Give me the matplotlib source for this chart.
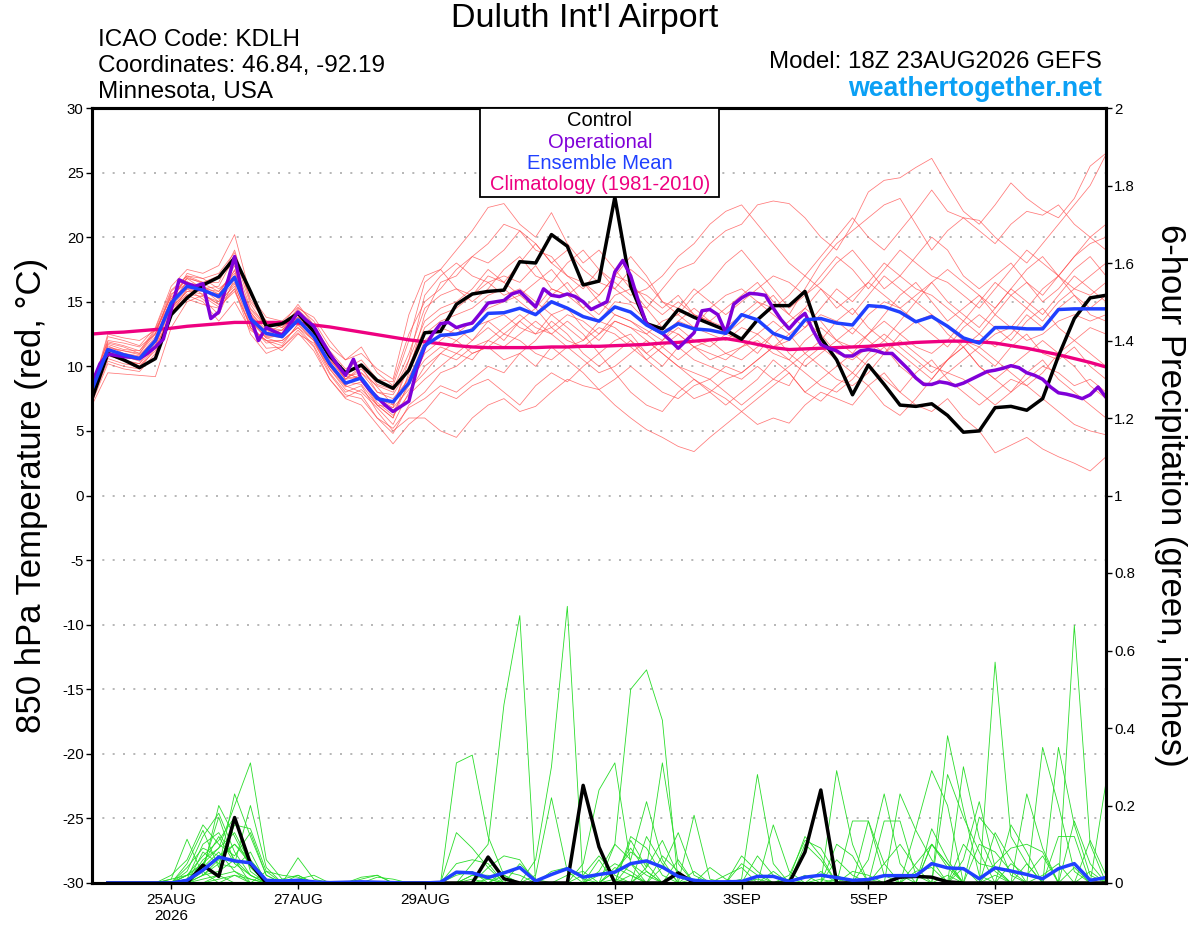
import numpy as np
import matplotlib.pyplot as plt
from matplotlib.patches import Rectangle
from matplotlib.ticker import FormatStrFormatter

plt.rcParams['font.family'] = ['Liberation Sans', 'DejaVu Sans']
plt.rcParams['axes.unicode_minus'] = False

# forecast hours after 18Z 23AUG2026 (ensemble 6-hourly, operational 3-hourly)
hours = np.arange(65) * 6
hours_op = np.arange(129) * 3

tick_hours = [30, 78, 126, 198, 246, 294, 342]
tick_labels = ['25AUG\n2026', '27AUG', '29AUG', '1SEP', '3SEP', '5SEP', '7SEP']

# 850 hPa temperature (C)
control_t = [7.5, 11.0, 10.5, 9.9, 10.6, 14.0, 15.3, 16.3, 16.9, 18.4, 15.8, 13.1, 13.3,
             14.1, 12.7, 10.8, 9.5, 10.1, 8.9, 8.3, 9.7, 12.6, 12.7, 14.8, 15.6, 15.8,
             15.9, 18.1, 18.0, 20.2, 19.3, 16.3, 16.6, 23.1, 16.2, 13.3, 12.9, 14.4, 13.8,
             13.3, 12.8, 12.1, 13.6, 14.7, 14.7, 15.8, 12.2, 10.5, 7.8, 10.1, 8.6, 7.0,
             6.9, 7.1, 6.2, 4.9, 5.0, 6.8, 6.9, 6.6, 7.5, 10.8, 13.7, 15.3, 15.5]

operational_t = [8.7, 10.2, 10.95, 10.85, 10.75, 10.7, 10.6, 11.0, 11.5, 12.1,
                 14.4, 16.7, 16.4, 16.2, 16.4, 13.7, 14.2, 16.3, 18.5, 15.5,
                 13.8, 12.0, 13.0, 12.7, 12.4, 13.3, 14.2, 13.6, 13.1, 12.0,
                 11.0, 10.1, 9.3, 10.55, 9.0, 8.2, 7.6, 7.0, 6.5, 6.9,
                 7.3, 9.8, 11.5, 12.5, 13.3, 13.4, 13.0, 13.2, 13.35, 14.1,
                 14.9, 15.0, 15.1, 15.6, 15.8, 15.2, 14.6, 16.0, 15.5, 15.4,
                 15.6, 15.4, 15.0, 14.4, 14.7, 15.0, 17.3, 18.2, 17.0, 15.0,
                 13.3, 12.9, 12.55, 12.0, 11.4, 12.0, 12.6, 14.3, 14.4, 14.0,
                 12.6, 14.8, 15.3, 15.65, 15.6, 15.5, 14.5, 13.6, 12.9, 13.6,
                 14.1, 12.8, 11.7, 11.4, 11.2, 10.8, 10.8, 11.2, 11.3, 11.2,
                 11.0, 11.0, 10.4, 9.8, 9.1, 8.6, 8.6, 8.8, 8.7, 8.5,
                 8.7, 9.0, 9.3, 9.6, 9.7, 9.85, 10.05, 9.9, 9.5, 9.3,
                 9.0, 8.4, 7.95, 7.85, 7.7, 7.5, 7.8, 8.4, 7.6]

mean_t = [8.2, 11.3, 10.9, 10.6, 12.0, 14.9, 16.2, 15.9, 15.4, 16.9, 13.7, 12.55, 12.3,
          13.6, 12.3, 10.2, 8.7, 9.1, 7.5, 7.25, 8.7, 11.6, 12.4, 12.5, 12.8, 14.1,
          14.15, 14.5, 14.0, 15.0, 14.5, 13.85, 13.5, 14.6, 14.2, 13.2, 12.55, 13.3, 12.9,
          12.8, 12.55, 14.0, 13.6, 12.55, 12.1, 13.6, 13.7, 13.35, 13.2, 14.7, 14.6, 14.2,
          13.45, 13.85, 13.1, 12.2, 11.8, 13.0, 13.0, 12.9, 12.9, 14.4, 14.45, 14.45, 14.45]

clim_t = [12.5, 12.6, 12.65, 12.75, 12.85, 12.95, 13.1, 13.2, 13.3, 13.4, 13.4, 13.4, 13.4,
          13.35, 13.2, 13.05, 12.85, 12.65, 12.45, 12.25, 12.05, 11.9, 11.75, 11.6, 11.5, 11.45,
          11.45, 11.45, 11.45, 11.5, 11.5, 11.55, 11.55, 11.6, 11.65, 11.7, 11.8, 11.85, 11.95,
          12.05, 12.15, 11.95, 11.7, 11.45, 11.3, 11.35, 11.4, 11.45, 11.5, 11.55, 11.65, 11.75,
          11.85, 11.9, 11.95, 11.95, 11.9, 11.8, 11.6, 11.4, 11.15, 10.9, 10.6, 10.3, 9.95]

members_t = [
    [7.5, 11.5, 11.2, 11.0, 12.5, 15.5, 16.8, 16.5, 17.0, 18.0, 14.5, 13.2, 12.5, 14.0, 13.0, 11.0, 9.5, 9.0, 7.0, 6.0, 9.5,
     14.0, 16.5, 17.0, 18.5, 19.5, 21.0, 20.5, 19.0, 18.5, 17.0, 16.0, 17.5, 16.0, 15.0, 14.5, 16.0, 17.5, 18.0, 19.5, 20.5,
     21.0, 22.5, 22.8, 22.6, 21.5, 20.0, 19.0, 21.0, 23.5, 24.4, 24.6, 25.4, 26.1, 24.0, 22.0, 21.0, 22.5, 24.2, 23.0, 22.1, 21.5, 23.0, 25.5, 26.5],
    [8.0, 12.3, 12.0, 11.6, 13.0, 16.2, 17.5, 17.2, 17.8, 20.2, 15.5, 13.8, 13.5, 14.6, 13.5, 11.5, 10.5, 11.5, 9.5, 8.5, 12.0,
     16.5, 17.5, 19.0, 20.5, 22.3, 22.6, 21.0, 20.0, 21.9, 19.5, 18.0, 19.0, 17.5, 16.0, 15.5, 14.5, 15.5, 14.0, 13.5, 14.5,
     15.5, 16.5, 15.0, 14.0, 16.0, 18.0, 19.5, 20.5, 21.5, 22.5, 23.0, 21.0, 19.0, 20.5, 21.5, 21.3, 20.0, 19.0, 18.0, 19.5, 21.0, 22.5, 24.0, 26.4],
    [7.0, 9.5, 9.4, 9.3, 9.2, 13.0, 15.0, 15.5, 14.8, 16.0, 12.5, 11.0, 11.5, 12.8, 11.5, 9.0, 7.5, 7.0, 5.5, 4.0, 5.5,
     6.5, 8.0, 7.5, 8.5, 9.0, 8.0, 7.0, 8.5, 9.5, 8.8, 10.0, 11.0, 9.5, 8.0, 7.0, 6.5, 8.0, 9.0, 8.2, 7.5,
     6.5, 5.5, 6.0, 5.6, 7.0, 8.0, 7.5, 7.0, 8.5, 9.5, 8.0, 7.0, 6.5, 7.5, 6.0, 5.0, 3.3, 3.9, 4.5, 3.6, 3.0, 2.5, 1.9, 3.0],
    [8.3, 11.0, 10.5, 10.2, 12.2, 14.5, 15.8, 16.0, 15.0, 17.5, 13.0, 12.0, 12.0, 13.0, 12.0, 9.5, 8.0, 8.5, 6.5, 5.0, 6.0,
     6.0, 5.0, 4.5, 6.0, 7.0, 7.5, 6.5, 6.9, 8.0, 9.0, 8.5, 8.2, 7.0, 6.0, 5.1, 4.5, 3.8, 3.4, 4.5, 5.5,
     6.5, 7.5, 8.5, 9.5, 8.0, 9.0, 10.0, 11.0, 10.0, 9.0, 8.0, 9.5, 10.5, 9.0, 8.0, 7.0, 8.0, 9.0, 8.5, 7.5, 6.5, 5.5, 5.0, 4.7],
    [8.0, 11.8, 11.5, 11.0, 12.8, 15.0, 16.5, 16.2, 15.2, 16.5, 14.0, 12.5, 12.8, 14.2, 12.8, 10.5, 9.0, 10.0, 8.0, 7.5, 9.0,
     12.0, 13.0, 12.5, 13.5, 14.5, 15.0, 15.5, 14.5, 16.0, 15.5, 14.5, 13.5, 15.0, 14.8, 13.5, 12.5, 13.5, 13.0, 12.5, 12.0,
     13.0, 12.5, 11.5, 12.0, 13.0, 14.0, 13.5, 12.5, 14.0, 15.0, 14.5, 13.5, 14.0, 13.0, 12.0, 11.5, 12.5, 13.0, 12.0, 12.5, 13.5, 14.0, 13.5, 14.0],
    [7.8, 10.8, 10.5, 10.0, 11.5, 14.0, 16.0, 15.2, 14.0, 16.8, 13.5, 12.2, 11.8, 13.2, 12.0, 10.0, 8.5, 9.5, 8.5, 8.0, 10.5,
     13.5, 14.5, 15.0, 16.0, 17.5, 16.5, 18.0, 19.5, 18.0, 17.0, 16.5, 15.5, 17.0, 18.5, 17.0, 15.0, 14.0, 15.5, 16.5, 18.0,
     19.0, 17.5, 16.0, 14.5, 15.5, 17.0, 18.5, 17.5, 16.0, 17.5, 19.0, 18.0, 17.0, 16.5, 15.5, 14.5, 16.0, 17.5, 19.0, 18.0, 17.0, 18.5, 20.0, 21.0],
    [8.5, 12.0, 11.8, 11.5, 12.5, 15.8, 17.0, 16.5, 16.5, 19.0, 15.0, 13.5, 13.0, 14.5, 13.8, 12.0, 10.5, 11.0, 9.8, 9.0, 14.0,
     17.0, 17.5, 16.0, 15.5, 16.5, 17.0, 16.5, 17.8, 16.0, 15.5, 16.5, 15.0, 14.0, 13.5, 12.8, 12.0, 13.0, 12.0, 11.5, 12.5,
     13.5, 14.5, 15.5, 14.0, 13.0, 14.5, 16.0, 15.0, 16.5, 18.0, 17.0, 16.0, 15.5, 14.5, 13.5, 15.0, 16.5, 15.5, 14.5, 13.5, 15.0, 16.0, 17.0, 18.0],
    [7.2, 10.2, 9.8, 9.6, 11.0, 14.2, 15.5, 15.0, 13.5, 15.0, 12.8, 12.0, 11.2, 12.5, 11.8, 9.8, 8.2, 7.8, 6.0, 4.8, 7.0,
     8.0, 9.5, 10.0, 11.0, 11.5, 12.5, 12.0, 11.0, 10.5, 11.5, 10.5, 9.5, 10.0, 11.0, 12.0, 11.0, 10.0, 9.0, 8.0, 7.0,
     8.0, 9.0, 10.5, 9.5, 8.0, 7.3, 8.5, 9.5, 8.5, 7.0, 6.2, 7.5, 9.0, 10.5, 11.5, 10.0, 9.0, 8.0, 9.5, 10.5, 9.0, 8.0, 7.0, 6.0],
    [8.6, 11.6, 11.0, 10.8, 12.3, 15.2, 16.8, 16.0, 15.8, 17.2, 14.2, 12.8, 12.6, 13.8, 12.5, 10.8, 9.2, 9.5, 8.0, 7.8, 9.8,
     12.5, 13.5, 14.0, 14.5, 15.5, 16.0, 15.0, 14.0, 15.5, 16.5, 15.0, 14.0, 15.5, 16.0, 14.5, 13.0, 12.5, 11.5, 11.0, 10.5,
     11.5, 12.5, 13.5, 12.5, 11.0, 12.0, 13.5, 14.5, 13.0, 12.0, 13.5, 15.0, 14.0, 12.5, 11.5, 12.5, 14.0, 15.5, 16.5, 15.0, 16.0, 17.5, 18.5, 17.0],
    [7.9, 11.2, 10.8, 10.4, 11.8, 14.6, 16.0, 15.8, 15.5, 17.8, 13.8, 12.4, 12.2, 13.5, 12.2, 10.0, 8.5, 8.0, 6.8, 5.5, 8.0,
     10.0, 11.0, 10.5, 11.5, 12.0, 13.0, 14.0, 13.0, 12.5, 13.5, 12.5, 11.0, 12.0, 12.5, 11.0, 10.0, 11.5, 10.5, 10.0, 9.5,
     9.0, 10.0, 9.0, 8.5, 10.5, 11.5, 10.5, 9.5, 11.0, 12.0, 11.0, 10.0, 9.0, 10.5, 12.0, 11.0, 10.0, 11.5, 12.5, 11.0, 10.5, 11.5, 10.0, 9.0],
    [8.1, 11.4, 11.2, 10.9, 12.0, 15.0, 17.2, 16.8, 16.0, 17.0, 14.0, 12.6, 13.2, 14.8, 13.2, 11.2, 9.8, 10.5, 9.0, 8.8, 12.5,
     15.0, 16.0, 17.5, 18.5, 18.0, 19.0, 20.5, 19.5, 18.0, 19.0, 17.5, 16.5, 16.0, 17.5, 16.5, 15.0, 14.5, 16.0, 15.0, 14.0,
     15.0, 16.0, 17.0, 16.5, 15.5, 16.5, 18.0, 19.0, 17.5, 16.0, 17.0, 18.5, 20.0, 19.0, 17.0, 16.0, 17.0, 18.0, 16.5, 15.5, 17.0, 18.5, 19.5, 20.0],
    [7.6, 10.6, 10.2, 10.0, 11.2, 14.4, 15.6, 15.4, 14.6, 15.8, 13.2, 11.8, 12.0, 13.0, 11.6, 9.4, 7.8, 7.5, 6.0, 5.2, 6.8,
     7.5, 8.5, 8.0, 9.0, 10.0, 9.5, 11.0, 10.0, 11.5, 10.5, 9.5, 8.2, 9.0, 10.0, 9.0, 8.0, 7.5, 8.5, 9.0, 8.0,
     7.0, 8.0, 9.0, 10.0, 11.0, 10.0, 9.0, 8.5, 9.5, 11.0, 12.0, 11.0, 10.0, 9.5, 10.5, 11.5, 10.5, 9.5, 8.5, 9.5, 11.0, 12.0, 11.0, 10.0],
    [8.4, 11.7, 11.3, 11.2, 12.6, 15.6, 16.4, 16.0, 16.2, 18.5, 14.8, 13.0, 12.4, 14.0, 12.6, 10.6, 9.0, 9.2, 7.5, 6.5, 8.5,
     11.0, 12.0, 13.0, 12.0, 13.5, 14.0, 13.0, 12.5, 14.0, 13.0, 12.0, 13.5, 13.0, 12.0, 11.0, 12.0, 13.5, 14.5, 13.5, 12.5,
     12.0, 11.0, 12.5, 13.5, 14.5, 13.5, 12.0, 11.5, 12.5, 14.0, 15.5, 16.5, 15.0, 13.5, 14.5, 15.5, 14.0, 13.0, 14.5, 16.0, 17.0, 15.5, 14.5, 15.5],
    [7.7, 11.0, 10.7, 10.5, 11.6, 14.8, 16.6, 15.5, 15.0, 16.2, 13.5, 12.2, 12.4, 13.6, 12.4, 10.4, 9.5, 10.2, 8.6, 8.2, 11.0,
     14.5, 15.5, 16.0, 15.0, 16.0, 17.5, 18.5, 17.0, 16.5, 18.0, 19.0, 17.5, 16.5, 15.5, 16.0, 17.0, 18.5, 19.5, 21.0, 22.0,
     22.5, 21.0, 19.5, 18.0, 17.0, 18.5, 20.0, 21.5, 20.0, 19.0, 20.5, 22.0, 23.65, 22.0, 21.5, 20.5, 19.5, 21.0, 22.0, 21.7, 22.5, 21.0, 20.0, 19.0],
    [8.2, 12.5, 12.2, 12.0, 12.8, 15.4, 16.0, 16.2, 15.6, 17.0, 14.2, 12.6, 12.8, 14.4, 13.2, 11.0, 9.5, 9.0, 7.2, 6.2, 7.8,
     9.0, 10.0, 11.0, 10.5, 12.0, 11.5, 12.5, 13.5, 12.5, 11.5, 12.0, 13.0, 12.5, 11.5, 10.5, 11.5, 12.5, 11.5, 10.5, 11.0,
     10.5, 11.5, 12.5, 11.0, 10.0, 11.0, 12.0, 13.0, 12.0, 11.0, 12.5, 13.5, 12.5, 11.5, 13.0, 14.0, 13.0, 12.0, 13.5, 14.5, 13.0, 12.0, 13.0, 12.5],
    [7.4, 10.4, 10.0, 9.8, 11.4, 14.0, 15.2, 14.8, 14.5, 16.0, 13.0, 11.4, 11.5, 12.6, 11.2, 9.0, 7.6, 8.2, 7.0, 6.8, 8.2,
     9.5, 11.0, 12.0, 13.0, 13.5, 12.5, 13.5, 14.5, 13.0, 12.0, 11.5, 12.5, 13.5, 13.0, 12.0, 11.0, 10.0, 9.5, 9.0, 10.0,
     9.5, 10.5, 11.5, 12.5, 13.5, 12.5, 11.0, 10.5, 11.5, 12.5, 11.5, 10.5, 9.5, 10.5, 11.5, 10.0, 9.0, 10.0, 11.0, 12.0, 11.0, 10.0, 8.5, 7.5],
    [8.0, 11.1, 10.8, 10.6, 12.1, 15.2, 16.9, 16.4, 15.8, 17.4, 14.4, 13.0, 12.8, 13.8, 12.8, 10.8, 9.0, 9.8, 8.4, 7.0, 10.0,
     13.0, 14.0, 14.5, 15.5, 17.0, 16.5, 15.5, 16.5, 17.5, 16.0, 14.5, 15.5, 17.0, 16.5, 15.0, 14.0, 15.0, 14.0, 13.5, 13.0,
     14.0, 15.0, 14.0, 13.0, 14.5, 16.0, 15.0, 14.0, 15.5, 17.0, 16.0, 15.0, 16.5, 17.5, 16.5, 15.5, 14.5, 16.0, 17.5, 18.5, 17.0, 16.0, 15.5, 16.5],
    [8.8, 11.9, 11.6, 11.2, 12.9, 15.9, 17.0, 16.8, 17.2, 18.8, 15.2, 13.5, 13.0, 14.2, 13.0, 10.8, 9.2, 9.0, 7.5, 6.8, 10.5,
     15.5, 17.0, 18.0, 17.0, 16.5, 15.5, 16.0, 15.0, 14.0, 14.5, 13.0, 12.0, 13.5, 13.0, 12.5, 11.5, 10.5, 11.5, 12.0, 11.0,
     11.5, 12.0, 11.0, 10.5, 12.0, 13.0, 12.0, 11.0, 12.5, 13.5, 12.5, 11.5, 11.0, 12.0, 13.5, 12.5, 11.5, 12.5, 14.0, 13.0, 14.5, 15.5, 14.0, 13.5],
    [7.3, 10.9, 10.4, 10.2, 11.6, 14.5, 15.8, 15.6, 14.8, 16.4, 13.0, 12.0, 11.6, 13.3, 12.0, 9.8, 8.4, 8.8, 7.5, 7.0, 9.2,
     11.5, 12.5, 12.0, 11.0, 11.5, 10.5, 11.0, 12.0, 13.5, 12.5, 11.0, 10.0, 11.0, 12.0, 10.5, 9.5, 8.5, 7.5, 8.0, 9.0,
     9.5, 10.5, 11.5, 10.5, 9.5, 8.5, 8.0, 9.0, 10.5, 11.5, 10.0, 9.0, 8.5, 9.5, 9.0, 8.0, 7.0, 8.0, 9.0, 10.0, 9.5, 8.5, 9.0, 8.0],
    [8.0, 11.3, 11.0, 10.7, 12.0, 14.8, 16.3, 15.9, 15.6, 16.8, 13.6, 12.3, 12.5, 13.4, 12.2, 10.3, 8.8, 8.6, 7.0, 6.0, 8.8,
     10.5, 11.5, 11.0, 12.0, 13.0, 12.0, 13.5, 12.5, 13.0, 14.0, 13.5, 12.5, 14.0, 13.5, 12.5, 13.5, 14.0, 13.0, 14.5, 15.5,
     16.0, 15.0, 14.5, 15.5, 17.0, 16.0, 14.5, 15.5, 16.5, 15.5, 14.5, 15.5, 16.5, 15.0, 14.0, 13.0, 14.5, 16.0, 15.0, 14.0, 15.5, 17.0, 16.0, 15.0],
]

# 6-hour precipitation (inches); first slot is the analysis time and is not drawn
control_p = [0, 0, 0, 0, 0, 0, 0, .046, .017, .169, .05, 0, 0,
             0, 0, 0, 0, 0, 0, 0, 0, 0, 0, 0, 0, .067,
             .011, 0, 0, 0, 0, .252, .093, 0, 0, 0, 0, .026, 0,
             0, 0, 0, 0, 0, 0, .08, .24, 0, 0, 0, 0, .015,
             .017, .015, .003, 0, 0, 0, 0, 0, 0, 0, 0, 0, 0]

mean_p = [0, 0, 0, 0, 0, 0, .007, .033, .067, .057, .052, .007, .005,
          .007, .003, .001, .002, .003, .002, .001, 0, 0, .002, .028, .026, .014,
          .026, .04, .005, .022, .037, .015, .022, .028, .05, .057, .041, .017, .007,
          .003, .003, .004, .017, .017, .004, .015, .02, .014, .007, .009, .019, .019,
          .019, .05, .039, .037, .011, .039, .031, .022, .011, .037, .05, .007, .014]

members_p = [
    [0, 0, 0, 0, 0, 0, .02, .05, .09, .2, .31, .06, .01,
     0, 0, 0, 0, 0, 0, 0, 0, 0, 0, .31, .33, .12,
     .02, 0, 0, 0, 0, 0, 0, .03, .08, .05, 0, 0, 0,
     0, 0, .01, .28, .05, 0, 0, 0, 0, 0, 0, 0, 0,
     0, .1, .05, 0, 0, .57, .12, .05, 0, 0, 0, 0, 0],
    [0, 0, 0, 0, 0, .01, .113, .02, .06, .1, .05, 0, 0,
     0, 0, 0, 0, 0, 0, 0, 0, 0, 0, 0, .05, .1,
     .46, .69, 0, 0, 0, 0, 0, 0, 0, 0, .04, .13, .02,
     0, 0, 0, 0, 0, 0, 0, 0, .29, .1, 0, 0, 0,
     0, 0, 0, 0, 0, 0, 0, 0, 0, .35, .15, .02, 0],
    [0, 0, 0, 0, 0, 0, .05, .136, .04, .23, .12, .02, 0,
     0, 0, 0, 0, 0, 0, 0, 0, 0, 0, 0, 0, 0,
     0, 0, .06, .3, .714, 0, .06, 0, 0, 0, 0, 0, 0,
     0, 0, 0, 0, 0, .02, .11, .09, .02, 0, 0, 0, 0,
     0, 0, 0, .3, .117, .03, 0, 0, 0, 0, .665, .1, 0],
    [0, 0, 0, 0, 0, 0, 0, .03, .2, .12, .04, 0, 0,
     .065, .01, 0, 0, 0, 0, 0, 0, 0, 0, 0, 0, 0,
     0, 0, 0, 0, 0, .05, .24, .31, .05, 0, 0, 0, 0,
     0, 0, 0, 0, 0, 0, 0, 0, 0, 0, 0, .16, .16,
     .02, 0, .38, .19, .02, 0, 0, .23, .09, 0, 0, 0, 0],
    [0, 0, 0, 0, 0, 0, 0, .08, .05, .15, .14, .03, 0,
     0, 0, 0, 0, 0, 0, 0, 0, 0, 0, 0, 0, 0,
     0, 0, 0, 0, 0, 0, 0, .1, .5, .55, .42, 0, 0,
     0, 0, .07, .03, 0, 0, 0, 0, 0, 0, 0, 0, 0,
     .14, .29, .2, 0, 0, 0, .15, .08, 0, 0, 0, 0, 0],
    [0, 0, 0, 0, 0, 0, .03, .12, .18, .08, .02, 0, 0,
     0, 0, 0, 0, 0, 0, 0, 0, 0, 0, .13, .09, .04,
     0, 0, .02, .22, .03, 0, 0, 0, .12, .09, .02, 0, 0,
     0, 0, 0, 0, .15, .03, 0, 0, 0, 0, .06, .23, .05,
     0, 0, 0, 0, .17, .12, .02, 0, 0, 0, 0, 0, 0],
    [0, 0, 0, 0, 0, .02, .06, .15, .1, .07, .13, .02, 0,
     0, 0, 0, 0, 0, 0, 0, 0, 0, 0, 0, 0, .04,
     .07, .06, 0, 0, 0, 0, .03, .1, .06, .21, .06, 0, .175,
     .01, 0, 0, 0, 0, 0, 0, 0, .1, .07, 0, 0, 0,
     0, .1, .05, 0, 0, 0, 0, 0, .35, .2, .03, 0, 0],
    [0, 0, 0, 0, 0, 0, 0, .04, .17, .05, .2, .04, 0,
     0, 0, 0, 0, .01, .02, 0, 0, 0, 0, .02, .03, 0,
     .02, 0, 0, 0, 0, 0, 0, 0, .11, .04, .31, .05, 0,
     0, 0, 0, 0, 0, 0, 0, 0, 0, 0, 0, 0, .23,
     .136, .06, 0, .1, .05, .04, 0, 0, 0, 0, 0, 0, 0],
    [0, 0, 0, 0, 0, 0, .01, .1, .13, .06, 0, .03, .02,
     .015, 0, 0, 0, 0, 0, 0, 0, 0, 0, 0, 0, 0,
     0, 0, 0, .03, .04, .01, 0, 0, 0, .12, .05, 0, 0,
     0, 0, 0, .07, .02, 0, 0, 0, 0, 0, .16, .02, 0,
     0, 0, .28, .17, .08, 0, 0, 0, 0, 0, 0, 0, .26],
    [0, 0, 0, 0, 0, 0, .02, .07, .11, .17, .03, 0, .01,
     .02, 0, 0, 0, 0, 0, 0, 0, 0, 0, 0, 0, 0,
     0, 0, 0, 0, 0, 0, 0, .03, .09, .03, 0, 0, 0,
     .04, .01, 0, 0, 0, 0, .1, .06, 0, .16, .16, .05, 0,
     0, 0, 0, 0, 0, .05, .09, .1, .08, 0, 0, 0, 0],
    [0, 0, 0, 0, 0, 0, 0, .06, .09, .13, .05, 0, 0,
     0, 0, 0, 0, 0, .015, .01, 0, 0, 0, 0, .02, .02,
     0, 0, 0, 0, 0, 0, .02, .05, .03, 0, 0, .06, 0,
     0, .02, .04, 0, 0, .01, .12, .07, 0, 0, 0, 0, 0,
     .05, .1, .04, 0, 0, 0, 0, 0, 0, .12, .12, 0, 0],
    [0, 0, 0, 0, 0, 0, .04, .09, .07, .1, .06, .01, 0,
     0, 0, 0, 0, .015, .02, 0, 0, 0, 0, 0, 0, 0,
     0, .05, .01, 0, 0, 0, 0, 0, 0, .04, .11, .02, 0,
     0, 0, 0, 0, 0, 0, 0, 0, .06, .02, 0, 0, 0,
     0, 0, 0, .06, .21, .04, 0, 0, 0, 0, .16, .05, 0],
    [0, 0, 0, 0, 0, 0, 0, .02, .05, .04, .08, 0, 0,
     .01, .02, 0, 0, 0, 0, 0, 0, 0, 0, 0, .01, 0,
     .03, .02, 0, 0, 0, 0, 0, 0, 0, 0, 0, 0, .01,
     0, 0, .05, .02, 0, 0, 0, 0, 0, 0, 0, .05, .1,
     .04, 0, 0, 0, 0, 0, .05, .02, .07, 0, 0, 0, 0],
    [0, 0, 0, 0, 0, .01, .02, .05, .12, .05, .02, 0, 0,
     0, 0, 0, 0, 0, 0, 0, 0, 0, 0, 0, 0, 0,
     0, 0, 0, 0, 0, .02, .07, .02, 0, 0, 0, 0, 0,
     0, 0, 0, 0, 0, .01, 0, .03, 0, 0, 0, 0, 0,
     0, .14, .06, 0, 0, 0, 0, .05, 0, 0, 0, 0, 0],
    [0, 0, 0, 0, 0, 0, .01, .04, .08, .03, 0, 0, 0,
     0, 0, 0, 0, 0, 0, 0, 0, 0, 0, .05, .06, .05,
     0, 0, 0, 0, 0, 0, 0, 0, .05, .02, 0, 0, 0,
     0, 0, 0, .01, 0, 0, 0, 0, 0, .03, .02, 0, 0,
     0, 0, 0, 0, 0, .13, .06, 0, 0, 0, 0, 0, 0],
    [0, 0, 0, 0, 0, 0, 0, .02, .03, .06, .02, 0, 0,
     0, 0, 0, 0, 0, 0, 0, 0, 0, 0, 0, 0, 0,
     0, 0, 0, 0, .02, .03, 0, 0, 0, 0, .07, .03, 0,
     0, 0, 0, 0, 0, 0, .02, 0, 0, 0, 0, 0, 0,
     .03, .04, 0, 0, 0, 0, 0, 0, 0, 0, 0, .11, .02],
    [0, 0, 0, 0, 0, 0, .02, .03, 0, .02, 0, 0, 0,
     .02, 0, 0, 0, 0, 0, 0, 0, 0, 0, 0, 0, 0,
     0, 0, 0, 0, 0, 0, 0, .04, .02, 0, 0, 0, .03,
     0, 0, 0, 0, .03, 0, 0, 0, 0, 0, 0, 0, .02,
     0, 0, 0, 0, .1, .08, .03, 0, 0, 0, 0, 0, 0],
    [0, 0, 0, 0, 0, 0, 0, 0, .02, .03, .01, 0, 0,
     0, 0, 0, 0, 0, 0, 0, 0, 0, 0, 0, 0, .01,
     0, 0, 0, 0, 0, 0, 0, 0, 0, .03, 0, 0, 0,
     0, 0, 0, 0, 0, 0, 0, 0, 0, 0, .01, 0, 0,
     0, 0, 0, .04, 0, 0, 0, 0, .02, .05, 0, 0, 0],
    [0, 0, 0, 0, 0, 0, 0, .01, .02, 0, 0, 0, 0,
     0, 0, 0, 0, 0, 0, 0, 0, 0, 0, 0, .02, .01,
     0, 0, 0, 0, 0, 0, 0, 0, .02, 0, 0, 0, 0,
     0, 0, 0, 0, 0, 0, 0, .01, 0, 0, 0, 0, 0,
     0, 0, .02, 0, 0, 0, 0, 0, 0, 0, .04, 0, 0],
    [0, 0, 0, 0, 0, 0, 0, 0, .01, .02, .01, 0, 0,
     0, 0, 0, 0, 0, 0, 0, 0, 0, 0, 0, 0, 0,
     0, 0, 0, 0, 0, 0, 0, .01, 0, 0, 0, 0, 0,
     0, 0, 0, 0, 0, 0, 0, 0, .01, 0, 0, 0, 0,
     0, 0, 0, 0, 0, .02, 0, 0, 0, 0, 0, .03, 0],
]

RED = '#ff4a4a'
GREEN = '#2add2a'
PURPLE = '#8000d8'
BLUE = '#2040ff'
PINK = '#ee0080'

fig = plt.figure(figsize=(12, 9.27), dpi=100)
ax = fig.add_axes([92 / 1200, 44 / 927, 1014 / 1200, 775 / 927])
ax2 = ax.twinx()

# temperature spaghetti
for m in members_t:
    ax.plot(hours, m, color=RED, lw=0.55, alpha=0.75)
ax.plot(hours, clim_t, color=PINK, lw=2.4)
ax.plot(hours, control_t, color='black', lw=2.5)
ax.plot(hours_op, operational_t, color=PURPLE, lw=2.5)
ax.plot(hours, mean_t, color=BLUE, lw=2.5)

# precipitation spaghetti (accumulations start at hour 6)
for g in members_p:
    ax2.plot(hours[1:], g[1:], color=GREEN, lw=0.6)
ax2.plot(hours[1:], control_p[1:], color='black', lw=2.5)
ax2.plot(hours[1:], mean_p[1:], color=BLUE, lw=2.5)

ax.set_xlim(0, 384)
ax.set_ylim(-30, 30)
ax2.set_ylim(0, 2)

ax.set_yticks(range(-30, 31, 5))
ax2.set_yticks(np.arange(0, 2.01, 0.2))
ax2.yaxis.set_major_formatter(FormatStrFormatter('%g'))
ax.set_xticks(tick_hours)
ax.set_xticklabels(tick_labels)

ax.yaxis.grid(True, color='#aaaaaa', linestyle=(0, (1.2, 5)), lw=1.2)
ax.set_axisbelow(True)

ax.tick_params(axis='y', direction='out', length=4, width=1, labelsize=10.8, pad=2)
ax2.tick_params(axis='y', direction='out', length=4, width=1, labelsize=10.8, pad=2)
ax.tick_params(axis='x', direction='out', length=4, width=1, labelsize=11, pad=3)

for a in (ax, ax2):
    for sp in a.spines.values():
        sp.set_linewidth(2.2)

fig.text(32 / 1200, 0.466, '850 hPa Temperature (red, °C)', rotation=90,
         fontsize=25, ha='center', va='center')
fig.text(1171 / 1200, 0.466, '6-hour Precipitation (green, inches)', rotation=270,
         fontsize=25, ha='center', va='center')

# header text
fig.text(585 / 1200, 1 - 18 / 927, "Duluth Int'l Airport", fontsize=24.5, ha='center', va='center')
fig.text(98 / 1200, 1 - 40 / 927, 'ICAO Code: KDLH', fontsize=17.5, ha='left', va='center')
fig.text(98 / 1200, 1 - 66 / 927, 'Coordinates: 46.84, -92.19', fontsize=17.5, ha='left', va='center')
fig.text(98 / 1200, 1 - 92 / 927, 'Minnesota, USA', fontsize=17.5, ha='left', va='center')
fig.text(1102 / 1200, 1 - 62 / 927, 'Model: 18Z 23AUG2026 GEFS', fontsize=17.4, ha='right', va='center')
fig.text(1102 / 1200, 1 - 89 / 927, 'weathertogether.net', fontsize=19.3, fontweight='bold',
         color='#0aa0f5', ha='right', va='center')

# legend box
fig.add_artist(Rectangle((480 / 1200, 1 - 197 / 927), 239 / 1200, 89 / 927,
                         transform=fig.transFigure, facecolor='white',
                         edgecolor='black', lw=1.3, zorder=10))
legend_items = [('Control', 'black'), ('Operational', PURPLE),
                ('Ensemble Mean', BLUE), ('Climatology (1981-2010)', PINK)]
for k, (txt, col) in enumerate(legend_items):
    fig.text(600 / 1200, 1 - (121 + 21.3 * k) / 927, txt, color=col, fontsize=14.5,
             ha='center', va='center', zorder=11)

fig.savefig('out.png', dpi=100)
